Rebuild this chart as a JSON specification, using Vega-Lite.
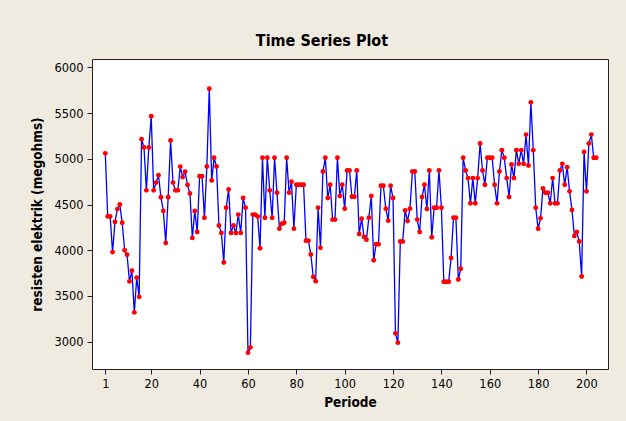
{
  "$schema": "https://vega.github.io/schema/vega-lite/v6.json",
  "width": 516,
  "height": 310,
  "autosize": {"type": "none"},
  "padding": {"left": 92, "top": 59, "right": 18, "bottom": 52},
  "background": "#EFEBE1",
  "title": {"text": "Time Series Plot", "font": "DejaVu Sans Condensed", "fontSize": 16, "fontWeight": "bold", "color": "#000000", "anchor": "middle", "dx": -28, "offset": -3, "baseline": "alphabetic"},
  "data": {"values": [
    {"Periode":1,"v":5060},{"Periode":2,"v":4370},{"Periode":3,"v":4370},{"Periode":4,"v":3980},{"Periode":5,"v":4310},
    {"Periode":6,"v":4450},{"Periode":7,"v":4500},{"Periode":8,"v":4300},{"Periode":9,"v":4000},{"Periode":10,"v":3950},
    {"Periode":11,"v":3660},{"Periode":12,"v":3775},{"Periode":13,"v":3320},{"Periode":14,"v":3700},{"Periode":15,"v":3490},
    {"Periode":16,"v":5215},{"Periode":17,"v":5125},{"Periode":18,"v":4655},{"Periode":19,"v":5125},{"Periode":20,"v":5465},
    {"Periode":21,"v":4655},{"Periode":22,"v":4740},{"Periode":23,"v":4820},{"Periode":24,"v":4580},{"Periode":25,"v":4430},
    {"Periode":26,"v":4080},{"Periode":27,"v":4580},{"Periode":28,"v":5200},{"Periode":29,"v":4740},{"Periode":30,"v":4655},
    {"Periode":31,"v":4655},{"Periode":32,"v":4915},{"Periode":33,"v":4800},{"Periode":34,"v":4860},{"Periode":35,"v":4715},
    {"Periode":36,"v":4620},{"Periode":37,"v":4135},{"Periode":38,"v":4430},{"Periode":39,"v":4200},{"Periode":40,"v":4810},
    {"Periode":41,"v":4810},{"Periode":42,"v":4356},{"Periode":43,"v":4916},{"Periode":44,"v":5767},{"Periode":45,"v":4764},
    {"Periode":46,"v":5011},{"Periode":47,"v":4916},{"Periode":48,"v":4270},{"Periode":49,"v":4190},{"Periode":50,"v":3866},
    {"Periode":51,"v":4465},{"Periode":52,"v":4665},{"Periode":53,"v":4190},{"Periode":54,"v":4270},{"Periode":55,"v":4190},
    {"Periode":56,"v":4390},{"Periode":57,"v":4190},{"Periode":58,"v":4571},{"Periode":59,"v":4465},{"Periode":60,"v":2880},
    {"Periode":61,"v":2938},{"Periode":62,"v":4390},{"Periode":63,"v":4390},{"Periode":64,"v":4370},{"Periode":65,"v":4022},
    {"Periode":66,"v":5011},{"Periode":67,"v":4356},{"Periode":68,"v":5011},{"Periode":69,"v":4655},{"Periode":70,"v":4356},
    {"Periode":71,"v":5011},{"Periode":72,"v":4630},{"Periode":73,"v":4236},{"Periode":74,"v":4290},{"Periode":75,"v":4300},
    {"Periode":76,"v":5011},{"Periode":77,"v":4630},{"Periode":78,"v":4750},{"Periode":79,"v":4236},{"Periode":80,"v":4716},
    {"Periode":81,"v":4716},{"Periode":82,"v":4716},{"Periode":83,"v":4716},{"Periode":84,"v":4105},{"Periode":85,"v":4105},
    {"Periode":86,"v":3953},{"Periode":87,"v":3709},{"Periode":88,"v":3662},{"Periode":89,"v":4465},{"Periode":90,"v":4026},
    {"Periode":91,"v":4862},{"Periode":92,"v":5011},{"Periode":93,"v":4571},{"Periode":94,"v":4716},{"Periode":95,"v":4335},
    {"Periode":96,"v":4335},{"Periode":97,"v":5011},{"Periode":98,"v":4593},{"Periode":99,"v":4716},{"Periode":100,"v":4455},
    {"Periode":101,"v":4873},{"Periode":102,"v":4873},{"Periode":103,"v":4585},{"Periode":104,"v":4585},{"Periode":105,"v":4873},
    {"Periode":106,"v":4178},{"Periode":107,"v":4345},{"Periode":108,"v":4146},{"Periode":109,"v":4116},{"Periode":110,"v":4356},
    {"Periode":111,"v":4593},{"Periode":112,"v":3891},{"Periode":113,"v":4066},{"Periode":114,"v":4066},{"Periode":115,"v":4705},
    {"Periode":116,"v":4705},{"Periode":117,"v":4455},{"Periode":118,"v":4324},{"Periode":119,"v":4705},{"Periode":120,"v":4571},
    {"Periode":121,"v":3091},{"Periode":122,"v":2989},{"Periode":123,"v":4095},{"Periode":124,"v":4095},{"Periode":125,"v":4436},
    {"Periode":126,"v":4320},{"Periode":127,"v":4455},{"Periode":128,"v":4862},{"Periode":129,"v":4862},{"Periode":130,"v":4335},
    {"Periode":131,"v":4200},{"Periode":132,"v":4582},{"Periode":133,"v":4716},{"Periode":134,"v":4451},{"Periode":135,"v":4873},
    {"Periode":136,"v":4142},{"Periode":137,"v":4465},{"Periode":138,"v":4465},{"Periode":139,"v":4873},{"Periode":140,"v":4465},
    {"Periode":141,"v":3655},{"Periode":142,"v":3655},{"Periode":143,"v":3655},{"Periode":144,"v":3916},{"Periode":145,"v":4356},
    {"Periode":146,"v":4356},{"Periode":147,"v":3680},{"Periode":148,"v":3797},{"Periode":149,"v":5011},{"Periode":150,"v":4873},
    {"Periode":151,"v":4789},{"Periode":152,"v":4513},{"Periode":153,"v":4789},{"Periode":154,"v":4513},{"Periode":155,"v":4789},
    {"Periode":156,"v":5167},{"Periode":157,"v":4873},{"Periode":158,"v":4716},{"Periode":159,"v":5011},{"Periode":160,"v":5011},
    {"Periode":161,"v":5011},{"Periode":162,"v":4716},{"Periode":163,"v":4513},{"Periode":164,"v":4862},{"Periode":165,"v":5095},
    {"Periode":166,"v":5011},{"Periode":167,"v":4789},{"Periode":168,"v":4582},{"Periode":169,"v":4938},{"Periode":170,"v":4789},
    {"Periode":171,"v":5095},{"Periode":172,"v":4945},{"Periode":173,"v":5095},{"Periode":174,"v":4945},{"Periode":175,"v":5265},
    {"Periode":176,"v":4927},{"Periode":177,"v":5618},{"Periode":178,"v":5095},{"Periode":179,"v":4465},{"Periode":180,"v":4236},
    {"Periode":181,"v":4349},{"Periode":182,"v":4676},{"Periode":183,"v":4629},{"Periode":184,"v":4629},{"Periode":185,"v":4513},
    {"Periode":186,"v":4789},{"Periode":187,"v":4513},{"Periode":188,"v":4513},{"Periode":189,"v":4873},{"Periode":190,"v":4945},
    {"Periode":191,"v":4716},{"Periode":192,"v":4909},{"Periode":193,"v":4644},{"Periode":194,"v":4440},{"Periode":195,"v":4156},
    {"Periode":196,"v":4200},{"Periode":197,"v":4095},{"Periode":198,"v":3713},{"Periode":199,"v":5076},{"Periode":200,"v":4644},
    {"Periode":201,"v":5167},{"Periode":202,"v":5265},{"Periode":203,"v":5011},{"Periode":204,"v":5011}
  ]},
  "encoding": {
    "x": {"field": "Periode", "type": "quantitative",
      "scale": {"domain": [-4.5, 208.9], "nice": false, "zero": false},
      "axis": {"values": [1,20,40,60,80,100,120,140,160,180,200], "format": "d", "title": "Periode", "titlePadding": 6}},
    "y": {"field": "v", "type": "quantitative",
      "scale": {"domain": [2701, 6092], "nice": false, "zero": false},
      "axis": {"values": [3000,3500,4000,4500,5000,5500,6000], "format": "d", "title": "resisten elektrik (megohms)", "titlePadding": 9}}
  },
  "layer": [
    {"mark": {"type": "line", "color": "#0000FF", "strokeWidth": 1.3}},
    {"mark": {"type": "point", "filled": true, "color": "#FF0000", "opacity": 1, "size": 24}}
  ],
  "config": {
    "view": {"fill": "#FFFFFF", "stroke": "#222222", "strokeWidth": 1},
    "axis": {
      "domain": false, "grid": false,
      "ticks": true, "tickColor": "#222222", "tickSize": 5, "tickWidth": 1,
      "labelFont": "DejaVu Sans Condensed", "labelFontSize": 12.7, "labelColor": "#000000", "labelPadding": 3,
      "titleFont": "DejaVu Sans Condensed", "titleFontSize": 13.5, "titleFontWeight": "bold", "titleColor": "#000000"
    },
    "axisY": {"labelPadding": 4}
  }
}
